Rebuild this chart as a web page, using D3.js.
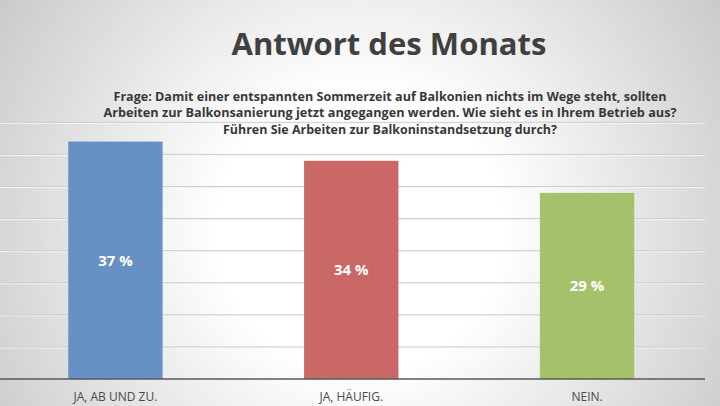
<!DOCTYPE html>
<html lang="de">
<head>
  <meta charset="UTF-8">
  <title>Antwort des Monats</title>
  <script src="https://cdn.jsdelivr.net/npm/d3@7"></script>
  <style>
    body { margin: 0; background: #fff; }
    svg { display: block; font-family: "Open Sans", sans-serif; }
    .cat { font-size: 12px; fill: #4a4a4a; text-anchor: middle; }
    .val { font-size: 15px; font-weight: 700; fill: #fff; text-anchor: middle; }
  </style>
</head>
<body>
  <svg id="chart" width="720" height="406"></svg>
  <script>
    // Daten
    const categories = ['JA, AB UND ZU.', 'JA, HÄUFIG.', 'NEIN.'];
    const values = [37, 34, 29];
    const barColors = ['#6790c5', '#c96866', '#a5c26b'];
    const yTicks = [0, 5, 10, 15, 20, 25, 30, 35, 40];
    const title = 'Antwort des Monats';
    const questionLines = [
      'Frage: Damit einer entspannten Sommerzeit auf Balkonien nichts im Wege steht, sollten',
      'Arbeiten zur Balkonsanierung jetzt angegangen werden. Wie sieht es in Ihrem Betrieb aus?',
      'Führen Sie Arbeiten zur Balkoninstandsetzung durch?'
    ];
    const questionWidths = [553, 573, 334];

    const width = 720, height = 406;
    const svg = d3.select('#chart');

    // Hintergrund mit radialem Verlauf
    const defs = svg.append('defs');
    const grad = defs.append('radialGradient')
      .attr('id', 'bg')
      .attr('gradientUnits', 'userSpaceOnUse')
      .attr('cx', 360).attr('cy', 230).attr('r', 470);
    grad.append('stop').attr('offset', 0).attr('stop-color', '#ffffff');
    grad.append('stop').attr('offset', 0.3).attr('stop-color', '#ffffff');
    grad.append('stop').attr('offset', 1).attr('stop-color', '#c2c2c2');
    svg.append('rect')
      .attr('width', width).attr('height', height)
      .attr('fill', 'url(#bg)');

    // Skalen
    const x = d3.scaleBand()
      .domain(categories)
      .range([-2.5, 705])
      .paddingInner(0.6)
      .paddingOuter(0.3);
    const y = d3.scaleLinear()
      .domain([0, 40])
      .range([379, 122.3]);

    // Gitterlinien (mit leichtem Schatten)
    const grid = svg.append('g');
    grid.selectAll('line.hl')
      .data(yTicks.slice(1))
      .join('line')
        .attr('x1', 0).attr('x2', 705)
        .attr('y1', d => y(d) + 1).attr('y2', d => y(d) + 1)
        .attr('stroke', '#f4f4f4');
    grid.selectAll('line.gl')
      .data(yTicks.slice(1))
      .join('line')
        .attr('class', 'gl')
        .attr('x1', 0).attr('x2', 705)
        .attr('y1', d => y(d)).attr('y2', d => y(d))
        .attr('stroke', '#cdcdcd');

    // Balken
    svg.append('g').selectAll('rect')
      .data(values)
      .join('rect')
        .attr('x', (d, i) => x(categories[i]))
        .attr('y', d => y(d))
        .attr('width', x.bandwidth())
        .attr('height', d => y(0) - y(d))
        .attr('fill', (d, i) => barColors[i]);

    // Werte in den Balken
    svg.append('g').selectAll('text')
      .data(values)
      .join('text')
        .attr('class', 'val')
        .attr('x', (d, i) => x(categories[i]) + x.bandwidth() / 2)
        .attr('y', d => (y(d) + y(0)) / 2)
        .attr('dy', '0.36em')
        .text(d => d + ' %');

    // x-Achse
    svg.append('line')
      .attr('x1', 0).attr('x2', 705)
      .attr('y1', y(0)).attr('y2', y(0))
      .attr('stroke', '#595959')
      .attr('stroke-width', 1.5);

    svg.append('g').selectAll('text')
      .data(categories)
      .join('text')
        .attr('class', 'cat')
        .attr('x', d => x(d) + x.bandwidth() / 2)
        .attr('y', 401)
        .text(d => d);

    // Titel
    svg.append('text')
      .attr('x', 389).attr('y', 55)
      .attr('text-anchor', 'middle')
      .attr('font-size', 30)
      .attr('font-weight', 700)
      .attr('fill', '#404040')
      .attr('textLength', 315)
      .attr('lengthAdjust', 'spacingAndGlyphs')
      .text(title);

    // Frage
    svg.append('g').selectAll('text')
      .data(questionLines)
      .join('text')
        .attr('x', 390)
        .attr('y', (d, i) => 100.7 + i * 16.7)
        .attr('text-anchor', 'middle')
        .attr('font-size', 13)
        .attr('font-weight', 700)
        .attr('fill', '#383838')
        .attr('textLength', (d, i) => questionWidths[i])
        .attr('lengthAdjust', 'spacingAndGlyphs')
        .text(d => d);
  </script>
</body>
</html>
